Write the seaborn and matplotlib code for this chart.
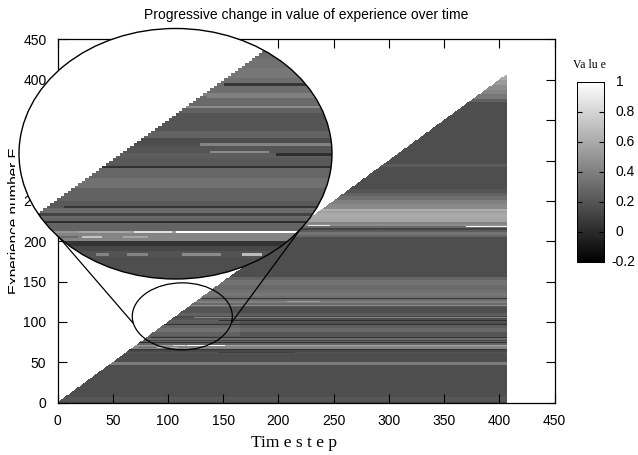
import numpy as np
import pandas as pd
import matplotlib
matplotlib.use('Agg')
import matplotlib.pyplot as plt
import seaborn as sns
from matplotlib.lines import Line2D
from matplotlib.patches import Ellipse
from matplotlib.transforms import Bbox, TransformedBbox

W, H = 638, 455

# experience number bands: first row of each band and its value
band_start = [0, 2, 7, 47, 50, 60, 63, 65, 67, 70, 71, 74, 75, 76, 77, 78, 80, 81, 83, 88, 92, 96, 97, 100, 102,
              105, 106, 108, 111, 118, 120, 121, 124, 126, 129, 130, 132, 136, 140, 146, 152, 156,
              205, 208, 211, 214, 217, 219, 222, 224, 229, 235, 237, 240, 246, 251, 256, 260, 265,
              292, 296, 372, 376, 382, 388, 394, 400]
band_value = [0.17, 0.21, 0.17, 0.38, 0.17, 0.19, 0.14, 0.04, 0.42, 0.55, 0.27, 0.02, 0.27, 0.30, 0.12, 0.30, 0.05,
              0.22, 0.20, 0.29, 0.24, 0.03, 0.17, 0.20, 0.17,
              0.42, 0.13, 0.24, 0.17, 0.22, 0.46, 0.30, 0.40, 0.32, 0.05, 0.32, 0.36, 0.33, 0.30, 0.34, 0.27, 0.17,
              0.28, 0.34, 0.24, 0.12, 0.30, 0.46, 0.42, 0.58, 0.60, 0.55, 0.62, 0.45, 0.40, 0.32, 0.26, 0.20, 0.17,
              0.23, 0.17, 0.25, 0.36, 0.42, 0.46, 0.52, 0.60]

# the same rows read lighter at early steps
early_start = [83, 88, 92, 97, 100, 102, 106, 108, 111, 118]
early_end = [88, 92, 96, 100, 102, 105, 108, 111, 118, 120]
early_value = [0.26, 0.33, 0.28, 0.22, 0.24, 0.20, 0.16, 0.26, 0.20, 0.26]
EARLY_LAST_STEP = 165

# short streaks inside one band: row, first step, last step, value
streak_row = [61, 61, 61, 61, 61, 62, 68, 68, 68, 70, 70, 70, 70, 70, 80, 101, 102, 105, 124,
              125, 129, 216, 218, 219, 219, 218]
streak_from = [61, 94, 103, 119, 136, 145, 74, 90, 102, 72, 90, 105, 117, 152, 70, 146, 127, 105, 120,
               208, 129, 255, 370, 227, 290, 385]
streak_to = [93, 98, 109, 130, 142, 215, 89, 96, 109, 89, 104, 116, 152, 407, 85, 407, 144, 124, 126,
             238, 131, 407, 407, 247, 296, 407]
streak_value = [0.19, 0.42, 0.42, 0.45, 0.68, 0.10, 0.30, 0.72, 0.58, 0.50, 0.58, 0.85, 1.0, 0.58, 0.22,
                0.02, 0.45, 0.17, 0.30, 0.55, 0.32, 0.10, 1.0, 0.90, 0.45, 0.95]

x_ticks = [0, 50, 100, 150, 200, 250, 300, 350, 400, 450]
y_ticks = [0, 50, 100, 150, 200, 250, 300, 350, 400, 450]
cbar_ticks = [-0.2, 0, 0.2, 0.4, 0.6, 0.8, 1]
cbar_labels = ['-0.2', '0', '0.2', '0.4', '0.6', '0.8', '1']

N_STEPS = 407
N_ROWS = 406

plt.rcParams['font.family'] = ['Liberation Sans', 'DejaVu Sans']


def px_box(left, top, right, bottom):
    """Figure fraction box from reference pixel edges."""
    return [left / W, 1 - bottom / H, (right - left) / W, (bottom - top) / H]


def fx(x):
    return x / W


def fy(y):
    return 1 - y / H


# fill the matrix, rows stay constant over time apart from the streaks
values = np.zeros((N_ROWS, N_STEPS))
for i, start in enumerate(band_start):
    values[start:, :] = band_value[i]
for a, b, v in zip(early_start, early_end, early_value):
    values[a:b, :EARLY_LAST_STEP] = v
for r, a, b, v in zip(streak_row, streak_from, streak_to, streak_value):
    values[r, a:b] = v
df = pd.DataFrame(values)
mask = np.tril(np.ones_like(values, dtype=bool), k=-1)

fig = plt.figure(figsize=(W / 100, H / 100), dpi=100)
ax = fig.add_axes(px_box(57.5, 39.5, 554.5, 402.7))
cax = fig.add_axes(px_box(576.7, 81.7, 604, 262))

sns.heatmap(df, mask=mask, cmap='gray', vmin=-0.2, vmax=1, ax=ax, cbar_ax=cax,
            xticklabels=False, yticklabels=False)
ax.set_xlim(0, 450)
ax.set_ylim(0, 450)
ax.set_xticks(x_ticks)
ax.set_xticklabels([str(t) for t in x_ticks], fontsize=10)
ax.set_yticks(y_ticks)
ax.set_yticklabels([str(t) for t in y_ticks], fontsize=10)
ax.tick_params(axis='x', direction='in', top=True, length=6.5, width=0.8, pad=8, rotation=0)
ax.tick_params(axis='y', direction='in', right=True, length=6.5, width=0.8, pad=8, rotation=0)
for side in ax.spines.values():
    side.set_visible(True)
    side.set_linewidth(0.9)
    side.set_color('black')

ax.add_patch(Ellipse((113, 107), 90.6, 83, fc='none', ec='black', lw=0.9, zorder=5))

# colour bar
cax.set_yticks(cbar_ticks)
cax.set_yticklabels([])
cax.tick_params(axis='y', direction='in', left=True, right=True, length=3.5, width=0.8, color='black')
for side in cax.spines.values():
    side.set_visible(True)
    side.set_linewidth(0.7)
    side.set_color('black')
for t, lab in zip(cbar_ticks, cbar_labels):
    off = 8.5 if not lab.startswith('-') else 5.5
    cax.annotate(lab, xy=(1, t), xycoords=cax.get_yaxis_transform(), xytext=(off, 0),
                 textcoords='offset points', va='center', ha='left', fontsize=10)
fig.text(fx(589), fy(65), 'Va lu e', family='Liberation Serif', fontsize=8.5, ha='center', va='center')

fig.text(fx(306), fy(15), 'Progressive change in value of experience over time', fontsize=10,
         ha='center', va='center')
fig.text(fx(294), fy(443), 'Tim e s t e p', family='Liberation Serif', fontsize=12.5,
         ha='center', va='center')

# the pasted magnification cuts the right side of this label off in the reference
ylab = fig.text(fx(15), fy(220.5), 'Experience number E', fontsize=11, rotation=90, ha='center', va='center')
ylab.set_clip_box(TransformedBbox(Bbox([[0, 0], [14.5 / W, 1]]), fig.transFigure))
ylab.set_clip_on(True)

# lines from the small ellipse to the magnified one
for (x0, y0), (x1, y1) in [((57, 235), (133, 323)), ((302, 227), (232, 322))]:
    fig.add_artist(Line2D([fx(x0), fx(x1)], [fy(y0), fy(y1)], color='black', lw=0.9, zorder=3))

# magnified view, same matrix clipped to an ellipse
inset = fig.add_axes(px_box(19, 28.5, 332, 279), zorder=4)
sns.heatmap(df, mask=mask, cmap='gray', vmin=-0.2, vmax=1, ax=inset, cbar=False,
            xticklabels=False, yticklabels=False)
inset.set_xlim(72, 162)
inset.set_ylim(51.6, 152)
inset.axis('off')
backing = Ellipse((0.5, 0.5), 1, 1, transform=inset.transAxes, fc='white', ec='none', zorder=0)
inset.add_patch(backing)
inset.collections[0].set_clip_path(backing)
inset.add_patch(Ellipse((0.5, 0.5), 1, 1, transform=inset.transAxes, fc='none', ec='black',
                        lw=1.0, zorder=3, clip_on=False))

fig.savefig('out.png', dpi=100)
plt.close(fig)
